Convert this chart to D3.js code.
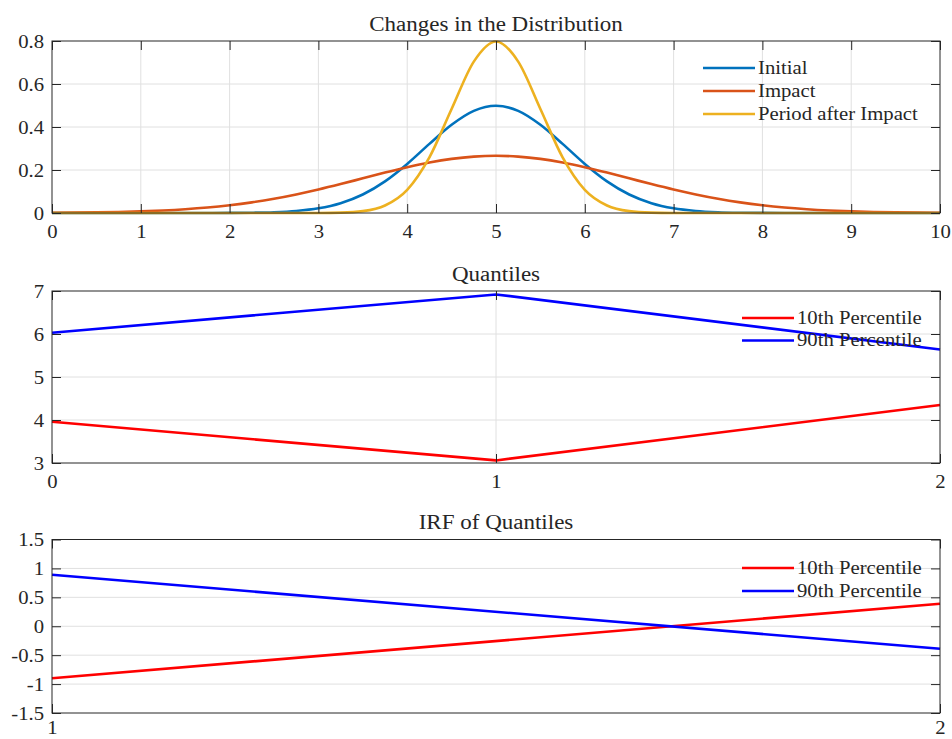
<!DOCTYPE html>
<html>
<head>
<meta charset="utf-8">
<script src="https://cdn.jsdelivr.net/npm/d3@7"></script>
<style>
  html, body { margin: 0; padding: 0; background: #fff; }
  svg text { font-family: "Liberation Serif", "DejaVu Serif", serif; fill: #262626; }
</style>
</head>
<body>
<svg id="fig" width="952" height="739"></svg>
<script>
// Density grid and the three distributions
const gridX = [0,0.25,0.5,0.75,1,1.25,1.5,1.75,2,2.25,2.5,2.75,3,3.25,3.5,3.75,4,4.25,4.5,4.75,5,
               5.25,5.5,5.75,6,6.25,6.5,6.75,7,7.25,7.5,7.75,8,8.25,8.5,8.75,9,9.25,9.5,9.75,10];
const initialDensity = [0,0,0,0,0,0,0.00003,0.00013,0.00044,0.00136,0.00378,0.00955,0.0219,0.0456,0.0860,0.1471,0.2283,0.3214,0.4102,0.4749,0.4987,
                        0.4749,0.4102,0.3214,0.2283,0.1471,0.0860,0.0456,0.0219,0.00955,0.00378,0.00136,0.00044,0.00013,0.00003,0,0,0,0,0,0];
const impactDensity = [0.00103,0.00177,0.00296,0.0048,0.0076,0.0117,0.0175,0.0254,0.0360,0.0495,0.0663,0.0864,0.1092,0.1345,0.1613,0.1880,0.2130,0.2347,0.2516,0.2623,0.2660,
                       0.2623,0.2516,0.2347,0.2130,0.1880,0.1613,0.1345,0.1092,0.0864,0.0663,0.0495,0.0360,0.0254,0.0175,0.0117,0.0076,0.0048,0.00296,0.00177,0.00103];
const afterDensity = [0,0,0,0,0,0,0,0,0,0,0,0.00003,0.00027,0.00175,0.00886,0.0351,0.1080,0.2590,0.4839,0.7041,0.7979,
                      0.7041,0.4839,0.2590,0.1080,0.0351,0.00886,0.00175,0.00027,0.00003,0,0,0,0,0,0,0,0,0,0,0];
const densityNames = ["Initial", "Impact", "Period after Impact"];

// Quantiles by period
const periods = [0, 1, 2];
const q10 = [3.96, 3.06, 4.35];
const q90 = [6.03, 6.92, 5.64];

// Quantile responses relative to the initial period
const irfPeriods = [1, 2];
const irf10 = [-0.90, 0.39];
const irf90 = [0.89, -0.39];
const quantileNames = ["10th Percentile", "90th Percentile"];

// Tick values
const ticks1X = [0,1,2,3,4,5,6,7,8,9,10];
const ticks1Y = [0,0.2,0.4,0.6,0.8];
const ticks2X = [0,1,2];
const ticks2Y = [3,4,5,6,7];
const ticks3X = [1,2];
const ticks3Y = [-1.5,-1,-0.5,0,0.5,1,1.5];

const svg = d3.select("#fig");
const L = 52, R = 940;
const axisColor = "#262626", gridColor = "#e0e0e0";
const fontSize = 18, titleSize = 20;
const widen = 1.15;   // wider serif set width

// stretch a text selection horizontally to a wider set width
function widenText(sel) {
  sel.each(function () {
    const len = this.getComputedTextLength();
    if (len > 0) {
      d3.select(this).attr("textLength", len * widen).attr("lengthAdjust", "spacingAndGlyphs");
    }
  });
}

function panel(opts) {
  const g = svg.append("g");
  const x = d3.scaleLinear().domain(opts.xDomain).range([L, R]);
  const y = d3.scaleLinear().domain(opts.yDomain).range([opts.bottom, opts.top]);
  const tickLen = 9;

  // grid
  g.append("g").selectAll("line").data(opts.xTicks.filter(v => v !== opts.xDomain[0] && v !== opts.xDomain[1]))
    .join("line").attr("x1", d => x(d)).attr("x2", d => x(d))
    .attr("y1", opts.top).attr("y2", opts.bottom)
    .attr("stroke", gridColor).attr("stroke-width", 1);
  g.append("g").selectAll("line").data(opts.yTicks.filter(v => v !== opts.yDomain[0] && v !== opts.yDomain[1]))
    .join("line").attr("y1", d => y(d)).attr("y2", d => y(d))
    .attr("x1", L).attr("x2", R)
    .attr("stroke", gridColor).attr("stroke-width", 1);

  // lines
  const line = d3.line().x(d => x(d[0])).y(d => y(d[1]));
  if (opts.smooth) line.curve(d3.curveMonotoneX);
  opts.series.forEach(s => {
    g.append("path").datum(s.xs.map((v, i) => [v, s.ys[i]]))
      .attr("d", line).attr("fill", "none")
      .attr("stroke", s.color).attr("stroke-width", 2.6)
      .attr("stroke-linejoin", "round");
  });

  // box and inward ticks
  g.append("rect").attr("x", L).attr("y", opts.top)
    .attr("width", R - L).attr("height", opts.bottom - opts.top)
    .attr("fill", "none").attr("stroke", axisColor).attr("stroke-width", 1);
  const fmt = d => String(d);
  const xAxB = d3.axisBottom(x).tickValues(opts.xTicks).tickSizeInner(-tickLen).tickSizeOuter(0)
    .tickFormat(fmt).tickPadding(opts.xPad);
  const gxb = g.append("g").attr("transform", `translate(0,${opts.bottom})`).call(xAxB);
  const xAxT = d3.axisTop(x).tickValues(opts.xTicks).tickSizeInner(-tickLen).tickSizeOuter(0).tickFormat("");
  const gxt = g.append("g").attr("transform", `translate(0,${opts.top})`).call(xAxT);
  const yAxL = d3.axisLeft(y).tickValues(opts.yTicks).tickSizeInner(-tickLen).tickSizeOuter(0)
    .tickFormat(fmt).tickPadding(8);
  const gyl = g.append("g").attr("transform", `translate(${L},0)`).call(yAxL);
  const yAxR = d3.axisRight(y).tickValues(opts.yTicks).tickSizeInner(-tickLen).tickSizeOuter(0).tickFormat("");
  const gyr = g.append("g").attr("transform", `translate(${R},0)`).call(yAxR);
  [gxb, gxt, gyl, gyr].forEach(a => {
    a.select(".domain").remove();
    a.selectAll("line").attr("stroke", axisColor);
    a.selectAll("text").attr("font-size", fontSize).attr("font-family", null).attr("fill", axisColor);
  });
  gyl.selectAll("text").attr("dy", "0.34em");
  gxb.selectAll("text").attr("dy", "0.7em");
  widenText(gyl.selectAll("text"));
  widenText(gxb.selectAll("text"));

  // title
  const t = g.append("text").attr("x", (L + R) / 2).attr("y", opts.top - 10.5)
    .attr("text-anchor", "middle").attr("font-size", titleSize).text(opts.title);
  widenText(t);

  // legend (no box)
  const lg = g.append("g");
  opts.series.forEach((s, i) => {
    const yy = opts.legendY + i * opts.legendStep;
    lg.append("line").attr("x1", opts.legendX).attr("x2", opts.legendX + 52)
      .attr("y1", yy).attr("y2", yy).attr("stroke", s.color).attr("stroke-width", 2.6);
    const lt = lg.append("text").attr("x", opts.legendX + 55).attr("y", yy).attr("dy", "0.33em")
      .attr("font-size", fontSize).text(s.name);
    widenText(lt);
  });
}

panel({
  title: "Changes in the Distribution",
  top: 41, bottom: 213, xDomain: [0, 10], yDomain: [0, 0.8],
  xTicks: ticks1X, yTicks: ticks1Y, smooth: true, xPad: 12,
  legendX: 703, legendY: 68, legendStep: 23,
  series: [
    { name: densityNames[0], xs: gridX, ys: initialDensity, color: "#0072BD" },
    { name: densityNames[1], xs: gridX, ys: impactDensity, color: "#D95319" },
    { name: densityNames[2], xs: gridX, ys: afterDensity, color: "#EDB120" }
  ]
});

panel({
  title: "Quantiles",
  top: 291, bottom: 463, xDomain: [0, 2], yDomain: [3, 7],
  xTicks: ticks2X, yTicks: ticks2Y, smooth: false, xPad: 12,
  legendX: 742, legendY: 318, legendStep: 22.5,
  series: [
    { name: quantileNames[0], xs: periods, ys: q10, color: "#FF0000" },
    { name: quantileNames[1], xs: periods, ys: q90, color: "#0000FF" }
  ]
});

panel({
  title: "IRF of Quantiles",
  top: 539.5, bottom: 713, xDomain: [1, 2], yDomain: [-1.5, 1.5],
  xTicks: ticks3X, yTicks: ticks3Y, smooth: false, xPad: 8,
  legendX: 742, legendY: 568, legendStep: 23,
  series: [
    { name: quantileNames[0], xs: irfPeriods, ys: irf10, color: "#FF0000" },
    { name: quantileNames[1], xs: irfPeriods, ys: irf90, color: "#0000FF" }
  ]
});
</script>
</body>
</html>
